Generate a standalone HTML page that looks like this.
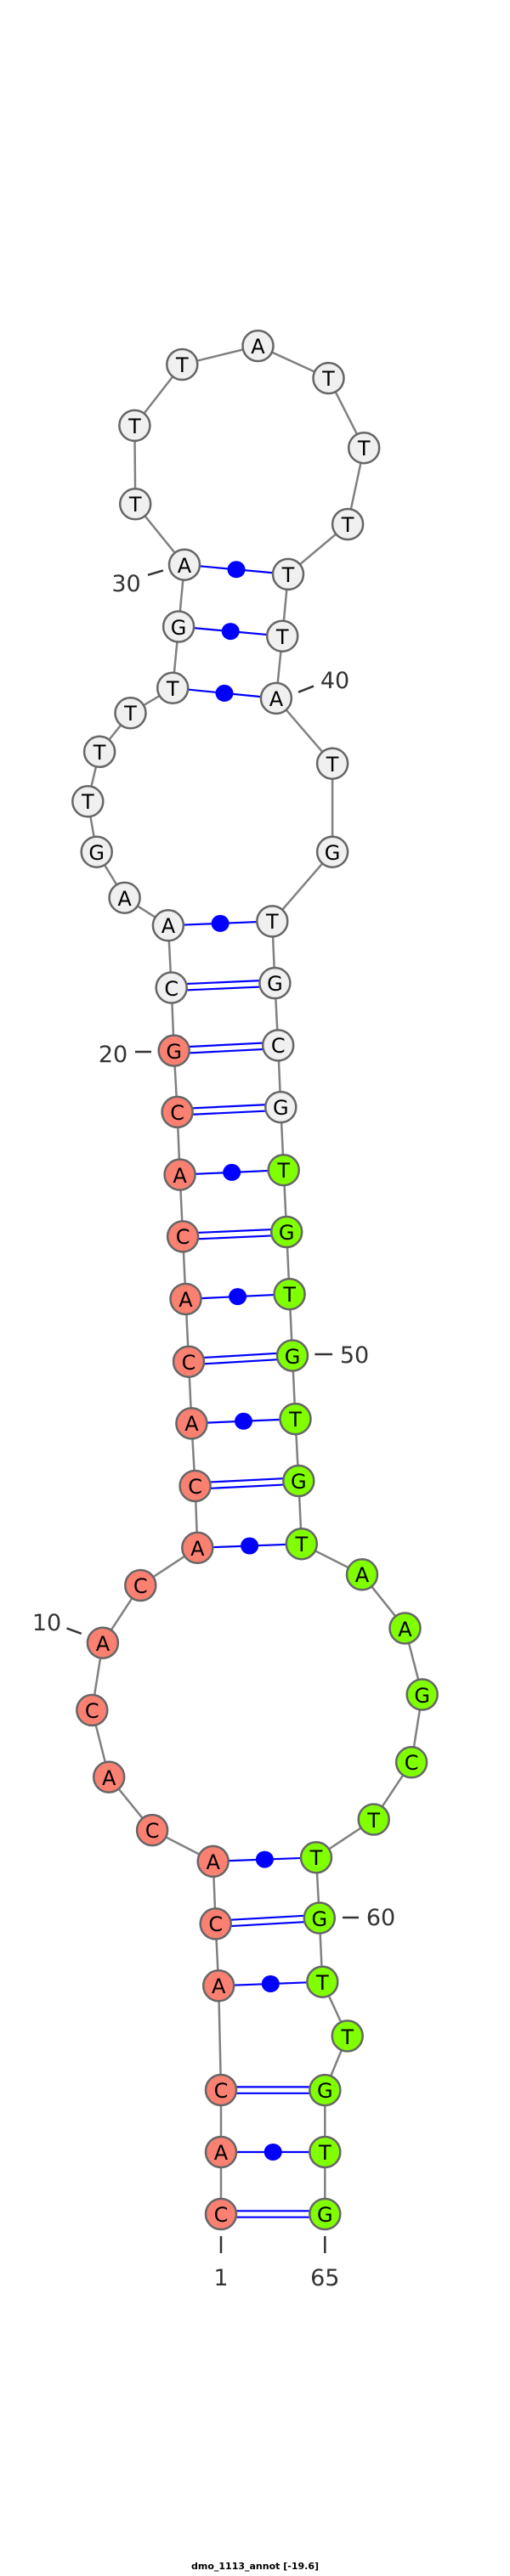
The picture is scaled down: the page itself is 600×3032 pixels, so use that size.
<!DOCTYPE html>
<html><head><meta charset="utf-8"><style>html,body{margin:0;padding:0;background:#fff}svg{display:block}</style></head>
<body>
<svg width="600" height="3032" viewBox="0 0 600 3032" xmlns="http://www.w3.org/2000/svg" font-family="'DejaVu Sans','Liberation Sans',sans-serif">
<polyline fill="none" stroke="#808080" stroke-width="2.5" points="260,2606 260,2533 260,2460 257.2,2337.3 253.7,2264.4 250.7,2190.9 179.1,2154.1 128.2,2091.6 108.3,2012.9 120.9,1933.7 165.3,1866 232.3,1821.8 229.6,1749 225.4,1675.4 222,1602.7 218.5,1529 215.1,1455.4 211.6,1382.6 208.6,1308.9 204.7,1236.6 201.7,1162.5 197.9,1089.3 146.6,1056.7 113.7,1002.7 103.3,943.3 117.1,884.8 153.5,839.3 203.2,809.8 210.1,737.5 217,664.7 159.2,593.3 158.4,500.9 214.3,429 303.5,407.1 386.5,445.1 428.2,527.2 409.1,617 339,675.9 332.2,748.7 324.9,821.9 391.1,898.7 391.1,1002.7 320.3,1084.4 323.4,1157.1 327.2,1230.4 330.3,1303.1 333.7,1377.2 337.2,1450 340.6,1523.2 344,1595.5 347.5,1670.1 351.3,1743 354.8,1817.2 426,1853.3 476.5,1916.5 496.7,1994.5 484.1,2074.3 439.7,2141.5 372,2186.3 375.8,2257.5 379.3,2332.7 408.7,2396.4 382.3,2460.1 382.3,2533 382.3,2606"/>
<g stroke="#0000ff" stroke-width="2.2">
<line x1="217" y1="664.7" x2="339" y2="675.9"/>
<line x1="210.1" y1="737.5" x2="332.2" y2="748.7"/>
<line x1="203.2" y1="809.8" x2="324.9" y2="821.9"/>
<line x1="197.9" y1="1089.3" x2="320.3" y2="1084.4"/>
<line x1="211.6" y1="1382.6" x2="333.7" y2="1377.2"/>
<line x1="218.5" y1="1529" x2="340.6" y2="1523.2"/>
<line x1="225.4" y1="1675.4" x2="347.5" y2="1670.1"/>
<line x1="232.3" y1="1821.8" x2="354.8" y2="1817.2"/>
<line x1="250.7" y1="2190.9" x2="372" y2="2186.3"/>
<line x1="257.2" y1="2337.3" x2="379.3" y2="2332.7"/>
<line x1="260" y1="2533" x2="382.3" y2="2533"/>
<line x1="201.7" y1="1158.8" x2="323.4" y2="1153.4"/><line x1="201.7" y1="1166.2" x2="323.4" y2="1160.8"/>
<line x1="204.7" y1="1232.9" x2="327.2" y2="1226.7"/><line x1="204.7" y1="1240.3" x2="327.2" y2="1234.1"/>
<line x1="208.6" y1="1305.2" x2="330.3" y2="1299.4"/><line x1="208.6" y1="1312.6" x2="330.3" y2="1306.8"/>
<line x1="215.1" y1="1451.7" x2="337.2" y2="1446.3"/><line x1="215.1" y1="1459.1" x2="337.2" y2="1453.7"/>
<line x1="222" y1="1599" x2="344" y2="1591.8"/><line x1="222" y1="1606.4" x2="344" y2="1599.2"/>
<line x1="229.6" y1="1745.3" x2="351.3" y2="1739.3"/><line x1="229.6" y1="1752.7" x2="351.3" y2="1746.7"/>
<line x1="253.7" y1="2260.7" x2="375.8" y2="2253.8"/><line x1="253.7" y1="2268.1" x2="375.8" y2="2261.2"/>
<line x1="260.2" y1="2456.4" x2="382.3" y2="2456.4"/><line x1="260.2" y1="2463.8" x2="382.3" y2="2463.8"/>
<line x1="260" y1="2602.3" x2="382.3" y2="2602.3"/><line x1="260" y1="2609.7" x2="382.3" y2="2609.7"/>
</g>
<g fill="#0000ff">
<ellipse cx="278" cy="670.3" rx="10.5" ry="10"/>
<ellipse cx="271.2" cy="743.1" rx="10.5" ry="10"/>
<ellipse cx="264" cy="815.9" rx="10.5" ry="10"/>
<ellipse cx="259.1" cy="1086.9" rx="10.5" ry="10"/>
<ellipse cx="272.7" cy="1379.9" rx="10.5" ry="10"/>
<ellipse cx="279.6" cy="1526.1" rx="10.5" ry="10"/>
<ellipse cx="286.5" cy="1672.8" rx="10.5" ry="10"/>
<ellipse cx="293.6" cy="1819.5" rx="10.5" ry="10"/>
<ellipse cx="311.4" cy="2188.6" rx="10.5" ry="10"/>
<ellipse cx="318.3" cy="2335" rx="10.5" ry="10"/>
<ellipse cx="321.2" cy="2533" rx="10.5" ry="10"/>
</g>
<g stroke="#666" stroke-width="2.5">
<g fill="#fa8072">
<circle cx="260" cy="2606" r="18"/><circle cx="260" cy="2533" r="18"/><circle cx="260" cy="2460" r="18"/><circle cx="257.2" cy="2337.3" r="18"/><circle cx="253.7" cy="2264.4" r="18"/><circle cx="250.7" cy="2190.9" r="18"/><circle cx="179.1" cy="2154.1" r="18"/><circle cx="128.2" cy="2091.6" r="18"/><circle cx="108.3" cy="2012.9" r="18"/><circle cx="120.9" cy="1933.7" r="18"/><circle cx="165.3" cy="1866" r="18"/><circle cx="232.3" cy="1821.8" r="18"/><circle cx="229.6" cy="1749" r="18"/><circle cx="225.4" cy="1675.4" r="18"/><circle cx="222" cy="1602.7" r="18"/><circle cx="218.5" cy="1529" r="18"/><circle cx="215.1" cy="1455.4" r="18"/><circle cx="211.6" cy="1382.6" r="18"/><circle cx="208.6" cy="1308.9" r="18"/><circle cx="204.7" cy="1236.6" r="18"/>
</g>
<g fill="#f0f0f0">
<circle cx="201.7" cy="1162.5" r="18"/><circle cx="197.9" cy="1089.3" r="18"/><circle cx="146.6" cy="1056.7" r="18"/><circle cx="113.7" cy="1002.7" r="18"/><circle cx="103.3" cy="943.3" r="18"/><circle cx="117.1" cy="884.8" r="18"/><circle cx="153.5" cy="839.3" r="18"/><circle cx="203.2" cy="809.8" r="18"/><circle cx="210.1" cy="737.5" r="18"/><circle cx="217" cy="664.7" r="18"/><circle cx="159.2" cy="593.3" r="18"/><circle cx="158.4" cy="500.9" r="18"/><circle cx="214.3" cy="429" r="18"/><circle cx="303.5" cy="407.1" r="18"/><circle cx="386.5" cy="445.1" r="18"/><circle cx="428.2" cy="527.2" r="18"/><circle cx="409.1" cy="617" r="18"/><circle cx="339" cy="675.9" r="18"/><circle cx="332.2" cy="748.7" r="18"/><circle cx="324.9" cy="821.9" r="18"/><circle cx="391.1" cy="898.7" r="18"/><circle cx="391.1" cy="1002.7" r="18"/><circle cx="320.3" cy="1084.4" r="18"/><circle cx="323.4" cy="1157.1" r="18"/><circle cx="327.2" cy="1230.4" r="18"/><circle cx="330.3" cy="1303.1" r="18"/>
</g>
<g fill="#7fff00">
<circle cx="333.7" cy="1377.2" r="18"/><circle cx="337.2" cy="1450" r="18"/><circle cx="340.6" cy="1523.2" r="18"/><circle cx="344" cy="1595.5" r="18"/><circle cx="347.5" cy="1670.1" r="18"/><circle cx="351.3" cy="1743" r="18"/><circle cx="354.8" cy="1817.2" r="18"/><circle cx="426" cy="1853.3" r="18"/><circle cx="476.5" cy="1916.5" r="18"/><circle cx="496.7" cy="1994.5" r="18"/><circle cx="484.1" cy="2074.3" r="18"/><circle cx="439.7" cy="2141.5" r="18"/><circle cx="372" cy="2186.3" r="18"/><circle cx="375.8" cy="2257.5" r="18"/><circle cx="379.3" cy="2332.7" r="18"/><circle cx="408.7" cy="2396.4" r="18"/><circle cx="382.3" cy="2460.1" r="18"/><circle cx="382.3" cy="2533" r="18"/><circle cx="382.3" cy="2606" r="18"/>
</g>
</g>
<g font-size="24" text-anchor="middle" fill="#000" dominant-baseline="central">
<text x="260" y="2607">C</text><text x="260" y="2534">A</text><text x="260" y="2461">C</text><text x="257.2" y="2338">A</text><text x="253.7" y="2265">C</text><text x="250.7" y="2192">A</text><text x="179.1" y="2155">C</text><text x="128.2" y="2093">A</text><text x="108.3" y="2014">C</text><text x="120.9" y="1935">A</text><text x="165.3" y="1867">C</text><text x="232.3" y="1823">A</text><text x="229.6" y="1750">C</text><text x="225.4" y="1676">A</text><text x="222" y="1604">C</text><text x="218.5" y="1530">A</text><text x="215.1" y="1456">C</text><text x="211.6" y="1384">A</text><text x="208.6" y="1310">C</text><text x="204.7" y="1238">G</text>
<text x="201.7" y="1164">C</text><text x="197.9" y="1090">A</text><text x="146.6" y="1058">A</text><text x="113.7" y="1004">G</text><text x="103.3" y="944">T</text><text x="117.1" y="886">T</text><text x="153.5" y="840">T</text><text x="203.2" y="811">T</text><text x="210.1" y="739">G</text><text x="217" y="666">A</text><text x="159.2" y="594">T</text><text x="158.4" y="502">T</text><text x="214.3" y="430">T</text><text x="303.5" y="408">A</text><text x="386.5" y="446">T</text><text x="428.2" y="528">T</text><text x="409.1" y="618">T</text><text x="339" y="677">T</text><text x="332.2" y="750">T</text><text x="324.9" y="823">A</text><text x="391.1" y="900">T</text><text x="391.1" y="1004">G</text><text x="320.3" y="1085">T</text><text x="323.4" y="1158">G</text><text x="327.2" y="1231">C</text><text x="330.3" y="1304">G</text>
<text x="333.7" y="1378">T</text><text x="337.2" y="1451">G</text><text x="340.6" y="1524">T</text><text x="344" y="1597">G</text><text x="347.5" y="1671">T</text><text x="351.3" y="1744">G</text><text x="354.8" y="1818">T</text><text x="426" y="1854">A</text><text x="476.5" y="1918">A</text><text x="496.7" y="1996">G</text><text x="484.1" y="2075">C</text><text x="439.7" y="2143">T</text><text x="372" y="2187">T</text><text x="375.8" y="2259">G</text><text x="379.3" y="2334">T</text><text x="408.7" y="2398">T</text><text x="382.3" y="2461">G</text><text x="382.3" y="2534">T</text><text x="382.3" y="2607">G</text>
</g>
<g stroke="#333" stroke-width="2.5">
<line x1="174" y1="676.8" x2="192" y2="671.4"/>
<line x1="351" y1="814.7" x2="369" y2="807.6"/>
<line x1="159" y1="1238" x2="178" y2="1238"/>
<line x1="370.4" y1="1594" x2="391" y2="1594"/>
<line x1="78.5" y1="1916.5" x2="95.7" y2="1922.8"/>
<line x1="403" y1="2257" x2="422" y2="2257"/>
<line x1="260" y1="2632" x2="260" y2="2652"/>
<line x1="382.3" y1="2632" x2="382.3" y2="2652"/>
</g>
<g font-size="27" fill="#333" text-anchor="middle">
<text x="148.5" y="696">30</text>
<text x="394" y="810">40</text>
<text x="133" y="1250">20</text>
<text x="417" y="1604">50</text>
<text x="55" y="1919">10</text>
<text x="448" y="2266">60</text>
<text x="260" y="2690">1</text>
<text x="382.3" y="2690">65</text>
</g>
<text x="300" y="3024" font-size="11" font-weight="bold" text-anchor="middle" fill="#000">dmo_1113_annot [-19.6]</text>
</svg>
</body></html>
